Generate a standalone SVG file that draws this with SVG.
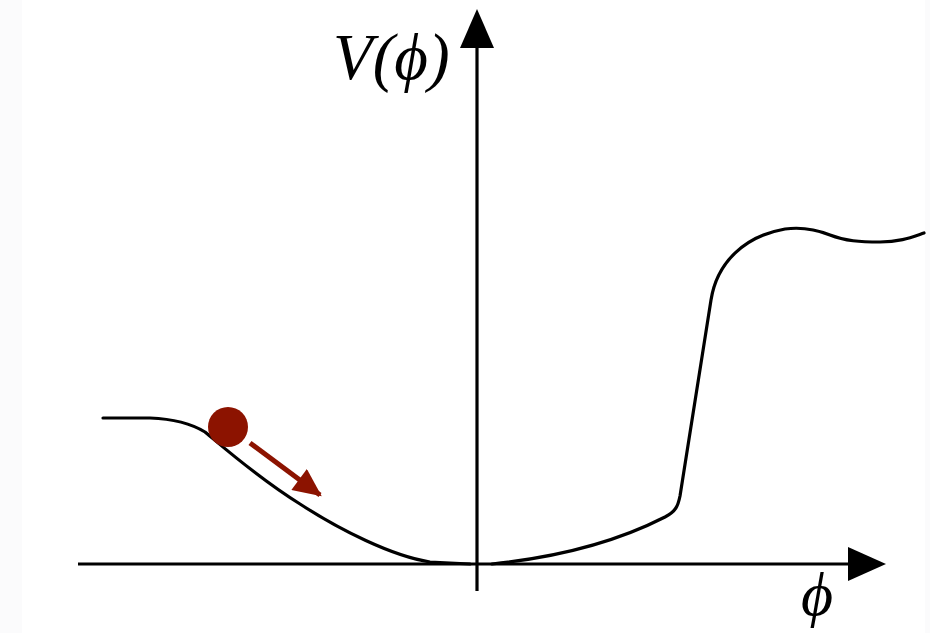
<svg xmlns="http://www.w3.org/2000/svg" width="930" height="633" viewBox="0 0 930 633">
<style>
.axis{stroke:#000;stroke-width:3.2;fill:none}
.curve{stroke:#000;stroke-width:3.2;fill:none;stroke-linejoin:round;stroke-linecap:round}
.lbl{font-family:"Liberation Serif","DejaVu Serif",serif;font-style:italic;fill:#000}
</style>
<defs>
<marker id="redhead" markerUnits="userSpaceOnUse" markerWidth="30" markerHeight="26" refX="24" refY="12" orient="auto" viewBox="0 0 26 24">
<path d="M0,0 L26,12 L0,24 Z" fill="#8c1300"/>
</marker>
</defs>
<rect x="0" y="0" width="930" height="633" fill="#fff"/>
<rect x="0" y="0" width="22" height="633" fill="#fbfbfc"/>
<rect x="925" y="0" width="5" height="633" fill="#fbfbfc"/>
<g id="axes">
<line class="axis" x1="78" y1="564" x2="852" y2="564"/>
<polygon points="848,547 848,581 886,564" fill="#000"/>
<line class="axis" x1="477" y1="591" x2="477" y2="45"/>
<polygon points="460,48 494,48 477,9" fill="#000"/>
</g>
<g id="potential">
<path class="curve" d="M103,418 L150,418 C175,419 192,424 205,432 C222,446 258,478 300,504 C340,530 392,556 430,562 L470,564"/>
<path class="curve" d="M492,564 C560,557 620,540 665,517 C676,511 678,506 680,496 L711,300 C717,262 745,236 785,229 C800,227 815,229 830,235 C845,241 860,242 880,242 C900,242 912,237 924,233"/>
</g>
<g id="ball">
<circle cx="228" cy="427" r="20" fill="#8c1300"/>
<line x1="250" y1="443" x2="320" y2="495" stroke="#8c1300" stroke-width="5" marker-end="url(#redhead)"/>
</g>
<g id="labels">
<text class="lbl" x="333" y="79" font-size="65">V(ϕ)</text>
<text class="lbl" x="801" y="615" font-size="62">ϕ</text>
</g>
</svg>
